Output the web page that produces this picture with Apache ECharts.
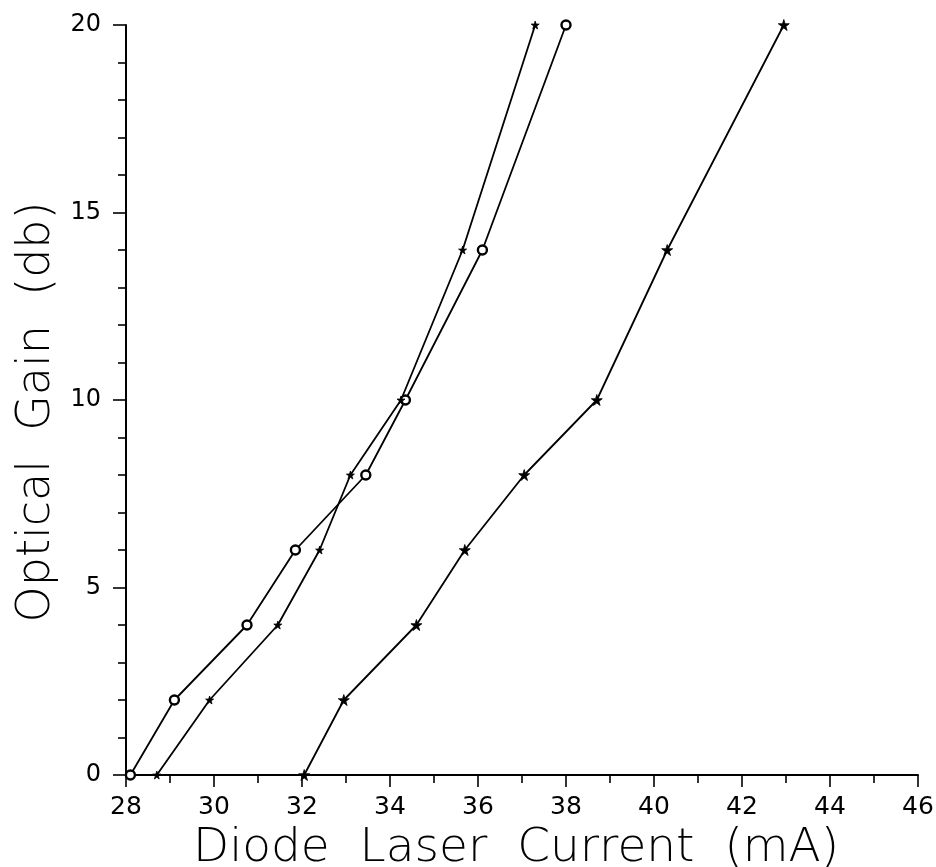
<!DOCTYPE html>
<html>
<head>
<meta charset="utf-8">
<script src="https://cdn.jsdelivr.net/npm/echarts@6/dist/echarts.min.js"></script>
<style>
  html, body { margin: 0; padding: 0; background: #fff; }
  #chart { width: 936px; height: 867px; }
</style>
</head>
<body>
<div id="chart"></div>
<script>
// Gain levels measured for each diode laser, and the drive current needed for each
const gainLevels   = [0, 2, 4, 6, 8, 10, 14, 20];
const circleCurrent = [28.1, 29.1, 30.75, 31.85, 33.45, 34.35, 36.1, 38.0];
const dotCurrent    = [28.7, 29.9, 31.45, 32.4, 33.1, 34.25, 35.65, 37.3];
const starCurrent   = [32.05, 32.95, 34.6, 35.7, 37.05, 38.7, 40.3, 42.95];

// Axis tick labels
const xTickLabels = [28, 30, 32, 34, 36, 38, 40, 42, 44, 46];
const yTickLabels = [0, 5, 10, 15, 20];

// Axis titles (wide word spacing, plotter style)
const xTitle = 'Diode  Laser  Current  (mA)';
const yTitle = 'Optical  Gain  (db)';

const STAR = 'path://M50,0 L61,35 L98,35 L68,57 L79,91 L50,70 L21,91 L32,57 L2,35 L39,35 Z';
const FONT = '"DejaVu Sans", sans-serif';

function pairs(xs, ys) {
  return xs.map((x, i) => [x, ys[i]]);
}

function lineSeries(name, xs, symbol, size, fill) {
  return {
    name: name,
    type: 'line',
    data: pairs(xs, gainLevels),
    symbol: symbol,
    symbolSize: size,
    showAllSymbol: true,
    lineStyle: { color: '#000', width: 1.8 },
    itemStyle: { color: fill, borderColor: '#000', borderWidth: fill === '#fff' ? 2.4 : 0.8 },
    emphasis: { disabled: true },
    z: 3
  };
}

const chart = echarts.init(document.getElementById('chart'), null, { renderer: 'canvas' });

chart.setOption({
  animation: false,
  backgroundColor: '#fff',
  grid: { left: 126, right: 18, top: 25, bottom: 92, containLabel: false, outerBoundsMode: 'none' },
  xAxis: {
    type: 'value',
    min: xTickLabels[0],
    max: xTickLabels[xTickLabels.length - 1],
    interval: 2,
    name: xTitle,
    nameLocation: 'middle',
    nameGap: 44,
    nameTextStyle: { fontFamily: FONT, fontSize: 47, fontWeight: 200, color: '#000', padding: [0, 12, 0, 0] },
    axisLine: { onZero: false, lineStyle: { color: '#000', width: 2 } },
    axisTick: { show: true, inside: false, length: 12, lineStyle: { color: '#000', width: 1.6 } },
    minorTick: { show: true, splitNumber: 2, length: 8, lineStyle: { color: '#000', width: 1.6 } },
    axisLabel: {
      margin: 20,
      fontFamily: FONT, fontSize: 25, color: '#000',
      formatter: v => (xTickLabels.indexOf(v) >= 0 ? String(v) : '')
    },
    splitLine: { show: false },
    minorSplitLine: { show: false }
  },
  yAxis: {
    type: 'value',
    min: yTickLabels[0],
    max: yTickLabels[yTickLabels.length - 1],
    interval: 5,
    name: yTitle,
    nameLocation: 'middle',
    nameRotate: 90,
    nameGap: 62,
    nameTextStyle: { fontFamily: FONT, fontSize: 46, fontWeight: 200, color: '#000', padding: [0, 24, 0, 0] },
    axisLine: { show: true, onZero: false, lineStyle: { color: '#000', width: 2 } },
    axisTick: { show: true, inside: false, length: 13, lineStyle: { color: '#000', width: 1.6 } },
    minorTick: { show: true, splitNumber: 5, length: 8, lineStyle: { color: '#000', width: 1.6 } },
    axisLabel: {
      margin: 25,
      fontFamily: FONT, fontSize: 24, color: '#000',
      formatter: v => (yTickLabels.indexOf(v) >= 0 ? String(v) : '')
    },
    splitLine: { show: false },
    minorSplitLine: { show: false }
  },
  series: [
    lineSeries('circle', circleCurrent, 'circle', 9, '#fff'),
    lineSeries('dot', dotCurrent, STAR, 8, '#000'),
    lineSeries('star', starCurrent, STAR, 11, '#000')
  ]
});
</script>
</body>
</html>
